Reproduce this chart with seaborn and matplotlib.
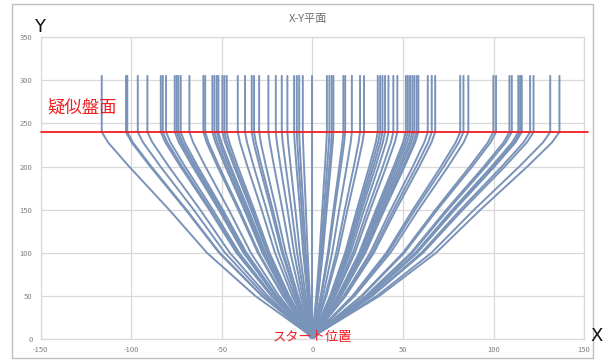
import matplotlib
matplotlib.use("Agg")
import matplotlib.pyplot as plt
from matplotlib.patches import Rectangle
import seaborn as sns
import pandas as pd

# x position where each trajectory reaches the pseudo board surface
end_x = [-116.3, -102.9, -102.2, -96.4, -91.1, -83.7, -82.6, -80.8, -76.0, -74.9,
         -74.0, -72.7, -67.9, -60.2, -59.2, -55.2, -54.1, -52.8, -51.9, -49.7,
         -48.6, -47.3, -41.2, -37.2, -33.5, -32.2, -29.4, -24.3, -20.2, -16.9,
         -13.8, -10.1, -8.6, -7.3, -5.3, 0.0, 8.0, 9.4, 10.7, 11.6,
         17.1, 18.1, 21.8, 26.3, 28.5, 36.1, 37.4, 38.7, 40.1, 42.0,
         44.7, 46.9, 51.6, 52.7, 53.9, 55.2, 56.3, 57.6, 58.5, 63.7,
         65.9, 67.8, 81.6, 83.4, 86.1, 99.9, 101.4, 108.8, 110.1, 113.7,
         114.7, 115.6, 120.2, 122.1, 131.3, 136.4]

# share of the final x offset reached at each height (common trajectory shape)
profile_y = [0, 8, 50, 100, 150, 200, 228, 240]
profile_frac = [0.0, 0.03, 0.27, 0.50, 0.68, 0.87, 0.97, 1.0]

surface_y = 240
top_y = 305

x_ticks = [-150, -100, -50, 0, 50, 100, 150]
y_ticks = [0, 50, 100, 150, 200, 250, 300, 350]

rows = []
for i, xe in enumerate(end_x):
    for k, (yy, ff) in enumerate(zip(profile_y, profile_frac)):
        rows.append({"path": i, "order": k, "x": xe * ff, "y": yy})
    rows.append({"path": i, "order": len(profile_y), "x": xe, "y": top_y})
df = pd.DataFrame(rows)

sns.set_theme(style="white")
plt.rcParams["font.family"] = ["Noto Sans CJK JP", "DejaVu Sans"]

fig = plt.figure(figsize=(6.04, 3.60), dpi=100)
ax = fig.add_axes([0.0674, 0.0575, 0.8996, 0.8397])

line_color = "#7A93B9"
sns.lineplot(data=df, x="x", y="y", units="path", estimator=None, sort=False,
             color=line_color, linewidth=1.4, ax=ax, legend=False)

ax.plot([-150, 152], [surface_y, surface_y], color="#F01E23", linewidth=1.3,
        clip_on=False, zorder=5)

ax.set_xlim(-150, 150)
ax.set_ylim(0, 350)
ax.set_xticks(x_ticks)
ax.set_yticks(y_ticks)
ax.set_xticklabels([str(v) for v in x_ticks])
ax.set_yticklabels([str(v) for v in y_ticks])
ax.tick_params(axis="both", labelsize=5.5, labelcolor="#7F7F7F", length=0, pad=6)
ax.tick_params(axis="x", pad=5)
ax.grid(True, color="#D9D9D9", linewidth=0.9)
ax.set_axisbelow(True)
for s in ax.spines.values():
    s.set_color("#D9D9D9")
    s.set_linewidth(0.9)
ax.set_xlabel("")
ax.set_ylabel("")

fig.text(0.51, 0.947, "X-Y平面", ha="center", va="center", fontsize=8, color="#6E6E6E")
fig.text(0.066, 0.925, "Y", ha="center", va="center", fontsize=13, color="#111111",
         family=["DejaVu Sans"])
fig.text(0.988, 0.068, "X", ha="center", va="center", fontsize=13, color="#111111",
         family=["DejaVu Sans"])
fig.text(0.136, 0.70, "疑似盤面", ha="center", va="center", fontsize=12.5, color="#F01E23")
fig.text(0.517, 0.062, "スタート位置", ha="center", va="center", fontsize=9.5, color="#F01E23",
         zorder=10)

fig.patches.append(Rectangle((12 / 604, 2 / 360), 581 / 604, 354 / 360,
                             transform=fig.transFigure, fill=False,
                             edgecolor="#BFBFBF", linewidth=1.0))

fig.savefig("out.png", dpi=100)
